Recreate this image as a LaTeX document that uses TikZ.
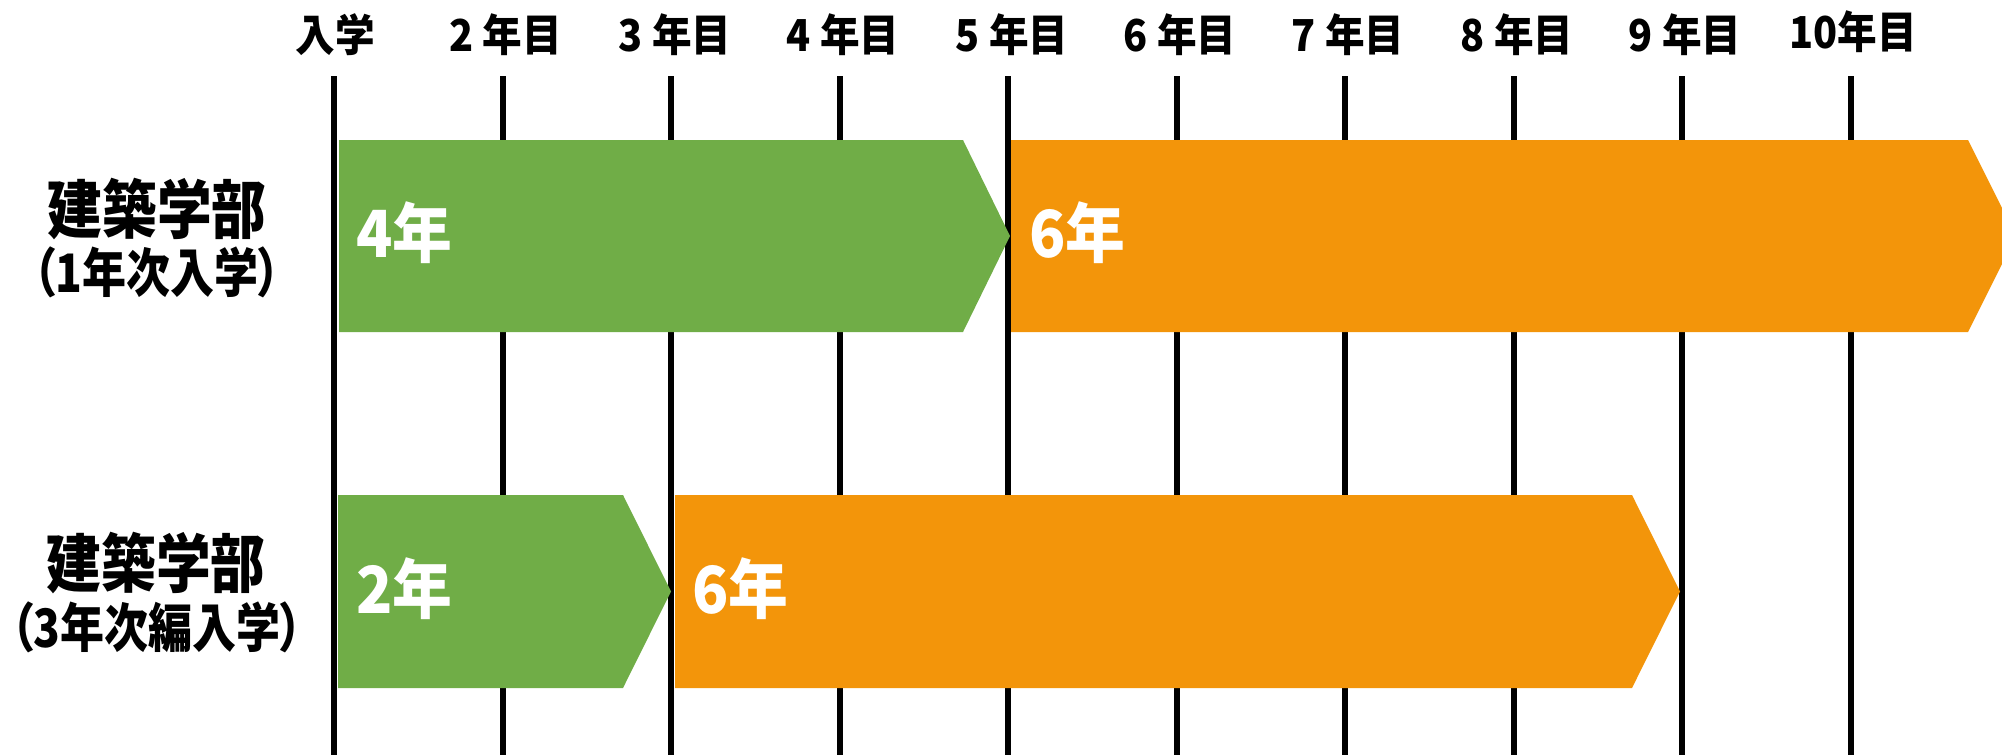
\documentclass[tikz,border=0pt]{standalone}
\usepackage{fontspec}
\setmainfont{Noto Sans CJK JP}
\newfontfamily\hdrfont{Noto Sans CJK JP}[FakeStretch=0.9]
\newfontfamily\ttlfont{Noto Sans CJK JP}[FakeStretch=0.855,RawFeature=+palt]
\newfontfamily\subfont{Noto Sans CJK JP}[FakeStretch=0.83,RawFeature=+palt]
\newfontfamily\lblfont{Noto Sans CJK JP}[FakeStretch=0.92]
\definecolor{bargreen}{HTML}{70AD47}
\definecolor{barorange}{HTML}{F3950A}
\begin{document}
\begin{tikzpicture}[x=1pt,y=-1pt,
  tl/.style={line width=6pt,black},
  hdr/.style={font=\hdrfont\bfseries\fontsize{44}{44}\selectfont,inner sep=0pt,anchor=center},
  rowtitle/.style={font=\ttlfont\bfseries\fontsize{64}{64}\selectfont,inner sep=0pt,anchor=center},
  rowsub/.style={font=\subfont\bfseries\fontsize{53}{53}\selectfont,inner sep=0pt,anchor=center},
  barlbl/.style={font=\lblfont\bfseries\fontsize{65}{65}\selectfont,text=white,inner sep=0pt,anchor=west},
  gbar/.style={fill=bargreen,draw=none},
  obar/.style={fill=barorange,draw=none}]
\useasboundingbox (0,0) rectangle (2002,755);
\clip (0,0) rectangle (2002,755);
% vertical year lines
\foreach \i in {0,...,9}{
  \coordinate (t\i) at ({334+168.5*\i},76);
  \coordinate (b\i) at ({334+168.5*\i},755);
  \draw[tl] (t\i) -- (b\i);
}
% header labels
\node[hdr] (h0) at (335,35) {入学};
\node[hdr] (h1) at (506,35) {2 年目};
\node[hdr] (h2) at (675,35) {3 年目};
\node[hdr] (h3) at (843,35) {4 年目};
\node[hdr] (h4) at (1012,35) {5 年目};
\node[hdr] (h5) at (1180,35) {6 年目};
\node[hdr] (h6) at (1348,35) {7 年目};
\node[hdr] (h7) at (1517,35) {8 年目};
\node[hdr] (h8) at (1685,35) {9 年目};
\node[hdr] (h9) at (1853,32) {10年目};
% row 1 bars
\fill[gbar] (339,140) -- (963,140) -- (1010,236) -- (963,332) -- (339,332) -- cycle;
\fill[obar] (1011,140) -- (1968,140) -- (2016,236) -- (1968,332) -- (1011,332) -- cycle;
% row 2 bars
\fill[gbar] (338,495) -- (623,495) -- (671,591.5) -- (623,688) -- (338,688) -- cycle;
\fill[obar] (675,495) -- (1632,495) -- (1680,591.5) -- (1632,688) -- (675,688) -- cycle;
% bar labels
\node[barlbl] (l1a) at (356,233) {4年};
\node[barlbl] (l1b) at (1029,233) {6年};
\node[barlbl] (l2a) at (356,589) {2年};
\node[barlbl] (l2b) at (692,589) {6年};
% row titles
\node[rowtitle] (r1t) at (157,209) {建築学部};
\node[rowsub] (r1s) at (157,272) {（1年次入学）};
\node[rowtitle] (r2t) at (156,563) {建築学部};
\node[rowsub] (r2s) at (157,627) {（3年次編入学）};
\end{tikzpicture}
\end{document}
